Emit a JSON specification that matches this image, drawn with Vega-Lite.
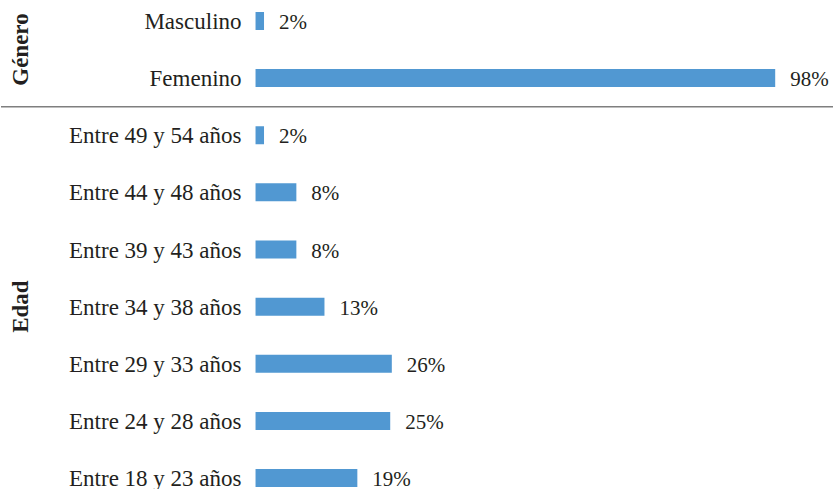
{
  "$schema": "https://vega.github.io/schema/vega-lite/v6.json",
  "width": 834,
  "height": 489,
  "autosize": {"type": "fit", "contains": "padding"},
  "padding": 0,
  "background": "white",
  "config": {"view": {"stroke": null}, "font": "Liberation Serif", "text": {"color": "#231f20"}},
  "datasets": {
    "rows": [
      {"categoria": "Masculino", "grupo": "Género", "pct": 0.016},
      {"categoria": "Femenino", "grupo": "Género", "pct": 0.98},
      {"categoria": "Entre 49 y 54 años", "grupo": "Edad", "pct": 0.016},
      {"categoria": "Entre 44 y 48 años", "grupo": "Edad", "pct": 0.077},
      {"categoria": "Entre 39 y 43 años", "grupo": "Edad", "pct": 0.077},
      {"categoria": "Entre 34 y 38 años", "grupo": "Edad", "pct": 0.13},
      {"categoria": "Entre 29 y 33 años", "grupo": "Edad", "pct": 0.257},
      {"categoria": "Entre 24 y 28 años", "grupo": "Edad", "pct": 0.254},
      {"categoria": "Entre 18 y 23 años", "grupo": "Edad", "pct": 0.192}
    ],
    "grupos": [
      {"grupo": "Género", "ref": "Masculino"},
      {"grupo": "Edad", "ref": "Entre 34 y 38 años"}
    ],
    "separador": [{"ref": "Femenino"}]
  },
  "layer": [
    {
      "data": {"name": "rows"},
      "mark": {"type": "bar", "color": "#5198d2", "height": 18},
      "encoding": {
        "y": {"field": "categoria", "type": "nominal", "sort": null, "axis": null,
              "scale": {"domain": ["Masculino", "Femenino", "Entre 49 y 54 años", "Entre 44 y 48 años", "Entre 39 y 43 años", "Entre 34 y 38 años", "Entre 29 y 33 años", "Entre 24 y 28 años", "Entre 18 y 23 años"],
                        "range": [-7.6, 506.6], "paddingInner": 0, "paddingOuter": 0}},
        "x": {"field": "pct", "type": "quantitative", "axis": null,
              "scale": {"domain": [-0.48, 1.089], "nice": false, "zero": false}},
        "x2": {"datum": 0}
      }
    },
    {
      "data": {"name": "rows"},
      "mark": {"type": "text", "align": "left", "baseline": "middle", "dx": 15, "dy": 2, "fontSize": 21},
      "encoding": {
        "y": {"field": "categoria", "type": "nominal", "sort": null},
        "x": {"field": "pct", "type": "quantitative"},
        "text": {"field": "pct", "type": "quantitative", "format": ".0%"}
      }
    },
    {
      "data": {"name": "rows"},
      "mark": {"type": "text", "align": "right", "baseline": "middle", "dx": -14, "dy": 1, "fontSize": 23},
      "encoding": {
        "y": {"field": "categoria", "type": "nominal", "sort": null},
        "x": {"datum": 0},
        "text": {"field": "categoria", "type": "nominal"}
      }
    },
    {
      "data": {"name": "separador"},
      "mark": {"type": "rule", "color": "#7f7f7f", "strokeWidth": 1.5},
      "encoding": {
        "y": {"field": "ref", "type": "nominal", "bandPosition": 1},
        "x": {"datum": -0.48},
        "x2": {"datum": 1.089}
      }
    },
    {
      "data": {"name": "grupos"},
      "transform": [{"filter": "datum.grupo === 'Género'"}],
      "mark": {"type": "text", "angle": 270, "align": "center", "baseline": "alphabetic", "fontWeight": "bold", "fontSize": 23},
      "encoding": {
        "y": {"field": "ref", "type": "nominal", "bandPosition": 1},
        "x": {"datum": -0.429},
        "text": {"field": "grupo", "type": "nominal"}
      }
    },
    {
      "data": {"name": "grupos"},
      "transform": [{"filter": "datum.grupo === 'Edad'"}],
      "mark": {"type": "text", "angle": 270, "align": "center", "baseline": "alphabetic", "fontWeight": "bold", "fontSize": 23},
      "encoding": {
        "y": {"field": "ref", "type": "nominal", "bandPosition": 0.5},
        "x": {"datum": -0.429},
        "text": {"field": "grupo", "type": "nominal"}
      }
    }
  ]
}
